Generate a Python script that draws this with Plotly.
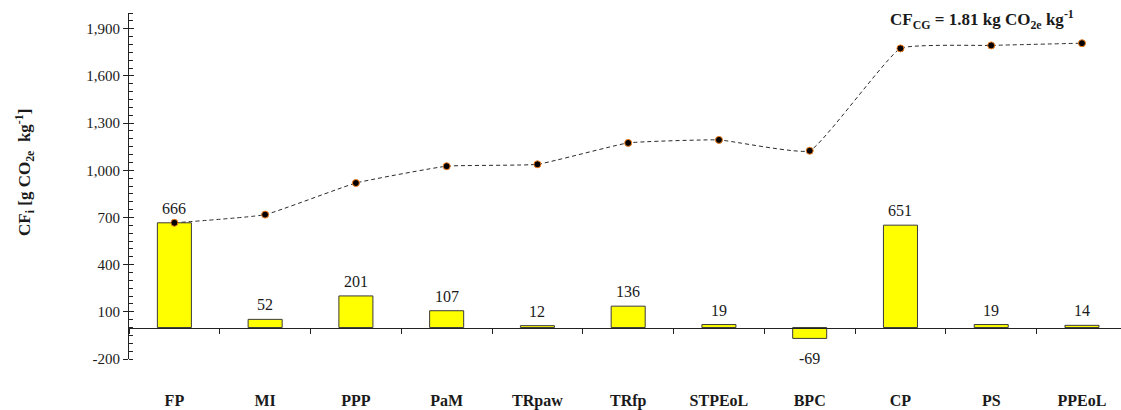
import numpy as np
import plotly.graph_objects as go

categories = ["FP", "MI", "PPP", "PaM", "TRpaw", "TRfp", "STPEoL", "BPC", "CP", "PS", "PPEoL"]
values = [666, 52, 201, 107, 12, 136, 19, -69, 651, 19, 14]
cumulative = list(np.cumsum(values))
y_ticks = [-200, 100, 400, 700, 1000, 1300, 1600, 1900]
y_tick_labels = ["-200", "100", "400", "700", "1,000", "1,300", "1,600", "1,900"]

FONT = "Liberation Serif"
INK = "#1a1a1a"

fig = go.Figure()
fig.add_trace(go.Bar(
    x=categories, y=values, width=0.375,
    marker=dict(color="#FFFF00", line=dict(color="#3a3a3a", width=1)),
    showlegend=False, hoverinfo="x+y",
))
fig.add_trace(go.Scatter(
    x=categories, y=cumulative, mode="lines+markers",
    line=dict(color="#2a2a2a", width=1, dash="4px,3px", shape="spline", smoothing=0.35),
    marker=dict(color="black", size=7, line=dict(color="#F08020", width=1)),
    showlegend=False, cliponaxis=False,
))
# axis line at zero with boundary ticks
fig.add_trace(go.Scatter(x=categories, y=[None]*len(categories), xaxis="x2",
                         showlegend=False, hoverinfo="skip"))
# inner part of crossing major ticks
fig.add_trace(go.Scatter(x=categories, y=[None]*len(categories), yaxis="y2",
                         showlegend=False, hoverinfo="skip"))

annotations = []
for c, v in zip(categories, values):
    annotations.append(dict(
        x=c, y=v, xref="x", yref="y", text=str(v), showarrow=False,
        yanchor="bottom" if v >= 0 else "top", yshift=4 if v >= 0 else -10,
        font=dict(family=FONT, size=16, color=INK),
    ))
annotations.append(dict(
    text="<b>CF<sub>CG</sub> = 1.81 kg CO<sub>2e</sub> kg<sup>-1</sup></b>",
    xref="paper", yref="paper", x=(982 - 129) / 992, y=1 - 7 / 346,
    xanchor="center", yanchor="middle", showarrow=False,
    font=dict(family=FONT, size=17, color=INK),
))
annotations.append(dict(
    text="<b>CF<sub>i</sub> [g CO<sub>2e</sub>  kg<sup>-1</sup>]</b>",
    xref="paper", yref="paper", x=(24 - 129) / 992, y=(359 - 173) / 346,
    xanchor="center", yanchor="middle", textangle=-90, showarrow=False,
    font=dict(family=FONT, size=17, color=INK),
))

fig.update_layout(
    width=1121, height=410,
    margin=dict(l=129, r=0, t=13, b=51, autoexpand=False),
    plot_bgcolor="white", paper_bgcolor="white",
    font=dict(family=FONT, color=INK),
    xaxis=dict(
        type="category", range=[-0.5, 10.43], showline=False, showgrid=False, zeroline=False,
        ticks="outside", ticklen=27, tickcolor="rgba(0,0,0,0)", automargin=False,
        tickfont=dict(family=FONT, size=16, color=INK),
        tickprefix="<b>", ticksuffix="</b>",
    ),
    xaxis2=dict(
        type="category", range=[-0.5, 10.43], overlaying="x", anchor="free",
        position=200 / 2200, showline=True, linecolor="#222222", linewidth=1,
        ticks="outside", tickson="boundaries", ticklen=5, tickcolor="#222222",
        showticklabels=False, showgrid=False, zeroline=False, automargin=False,
        categoryorder="array", categoryarray=categories,
    ),
    yaxis=dict(
        range=[-200, 2000], tickvals=y_ticks, ticktext=y_tick_labels,
        showline=True, linecolor="#222222", linewidth=1,
        ticks="outside", ticklen=5, tickcolor="#222222",
        showgrid=False, zeroline=False, automargin=False,
        tickfont=dict(family=FONT, size=15, color=INK),
        minor=dict(dtick=50, tick0=0, ticks="inside", ticklen=4, tickcolor="#222222", showgrid=False),
    ),
    yaxis2=dict(
        range=[-200, 2000], overlaying="y", side="left", anchor="x",
        tickvals=y_ticks, ticks="inside", ticklen=5, tickcolor="#222222",
        showticklabels=False, showgrid=False, zeroline=False, showline=False, automargin=False,
    ),
    annotations=annotations,
)

fig.write_html("out.html", config={"displayModeBar": False},
               post_script="document.body.style.margin='0';document.body.style.overflow='hidden';")
